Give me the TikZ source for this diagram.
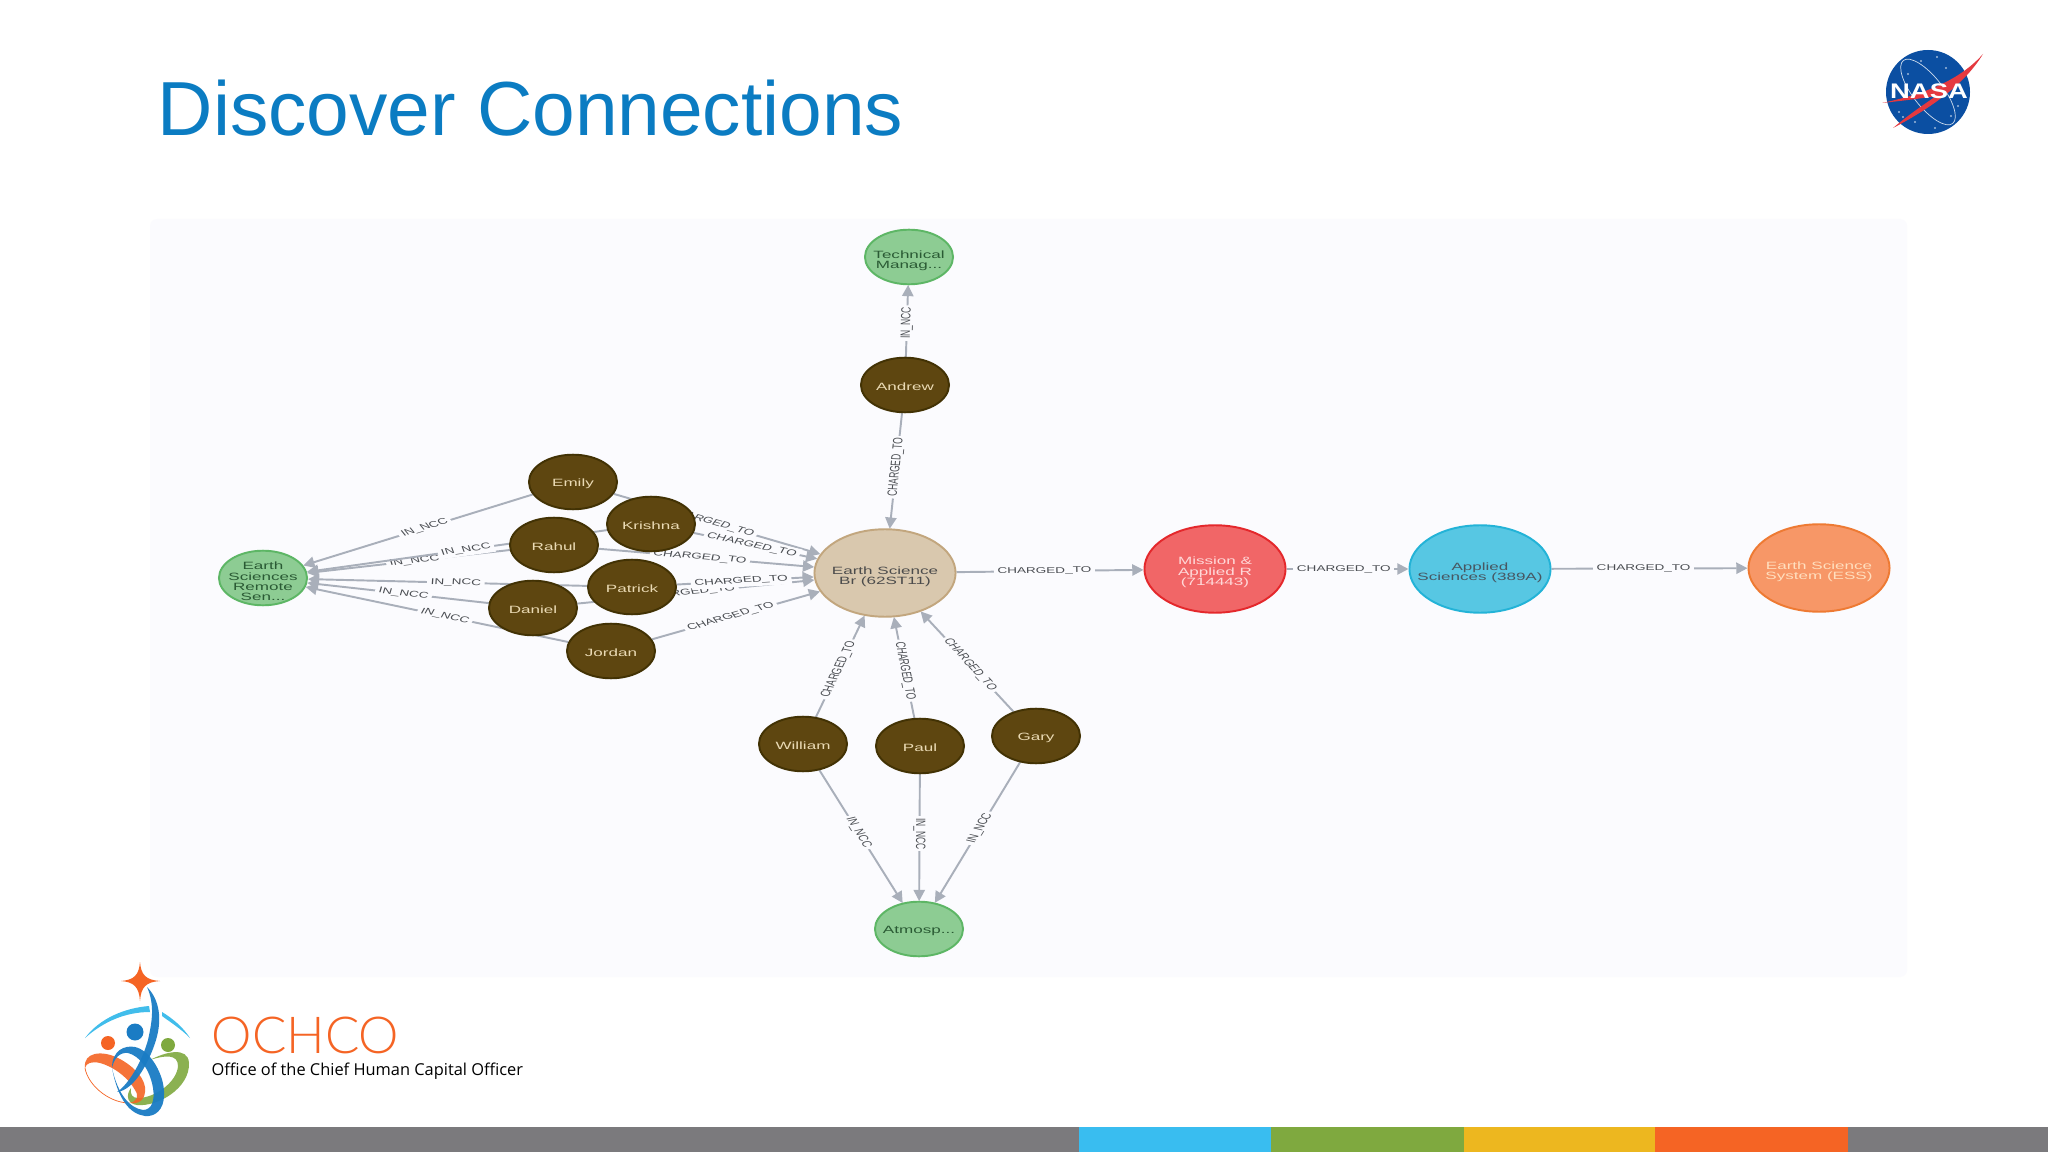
\documentclass[tikz,border=0pt]{standalone}
\usepackage{fontspec}
\setmainfont{Liberation Sans}
\newfontfamily\ochcofont{Lato Light}
\newfontfamily\officefont{Open Sans}
\usetikzlibrary{arrows.meta,positioning,shapes.geometric}
\definecolor{titleblue}{HTML}{0B7CC2}
\definecolor{panelwhite}{HTML}{FBFBFE}
\definecolor{edgegray}{HTML}{A9AFBA}
\definecolor{labeltext}{HTML}{4A4D52}
\definecolor{barback}{HTML}{7B7A7D}
\definecolor{barblue}{HTML}{39BDF0}
\definecolor{bargreen}{HTML}{7FA93F}
\definecolor{baryellow}{HTML}{EDB71F}
\definecolor{barorange}{HTML}{F56424}
\definecolor{nasablue}{HTML}{0B4FA2}
\definecolor{nasared}{HTML}{E5393F}
\definecolor{ribbonblue}{HTML}{1A7CC4}
\definecolor{skyblue}{HTML}{41BDEB}
\definecolor{personfill}{HTML}{5E4610}
\definecolor{personline}{HTML}{423204}
\definecolor{persontext}{HTML}{EADAB4}
\definecolor{groupfill}{HTML}{8DCC93}
\definecolor{groupline}{HTML}{5DB665}
\definecolor{grouptext}{HTML}{2A5A34}
\definecolor{tanfill}{HTML}{D9C8AE}
\definecolor{tanline}{HTML}{C2A67E}
\definecolor{redfill}{HTML}{F16667}
\definecolor{redline}{HTML}{E4282C}
\definecolor{cyanfill}{HTML}{57C7E3}
\definecolor{cyanline}{HTML}{23B3D7}
\definecolor{orangefill}{HTML}{F79767}
\definecolor{orangeline}{HTML}{EE7A33}
\pgfdeclarelayer{panel}
\pgfdeclarelayer{edges}
\pgfsetlayers{panel,edges,main}
\newcommand{\toprule}{\rule{0pt}{6.7pt}}
\newcommand{\oneline}{\rule{0pt}{5.5pt}}
\tikzset{
    basenode/.style={circle, inner sep=-6pt, yscale=0.62, line width=0.55pt, align=center,
        font=\fontsize{4.85}{4.7}\selectfont},
    person/.style={basenode, minimum size=0.88cm, fill=personfill, draw=personline, text=persontext},
    group/.style={basenode, minimum size=0.88cm, fill=groupfill, draw=groupline, text=grouptext},
    branch/.style={basenode, minimum size=1.41cm, fill=#1fill, draw=#1line},
    rel/.style={draw=edgegray, line width=0.55pt, -{Triangle[length=3.2pt,width=3.2pt]}},
    rellabel/.style={pos=0.47, yscale=0.62, fill=panelwhite, inner sep=1pt, text=labeltext,
        font=\fontsize{3.85}{3.85}\selectfont},
}
\begin{document}
\begin{tikzpicture}[x=0.01cm,y=-0.01cm]
    \useasboundingbox (0,0) rectangle (2048,1152);

    % heading
    \node[anchor=base west, inner sep=0pt, text=titleblue, font=\fontsize{21.8}{24}\selectfont] (title) at (157,136) {Discover Connections};

    % graph
    \begin{pgfonlayer}{panel}
        \fill[white] (0,0) rectangle (2048,1152);
        \fill[panelwhite, rounded corners=2pt] (150,219) rectangle (1907,977);
    \end{pgfonlayer}

    \node[group] (tech) at (909,257) {\toprule Technical\\Manag...};
    \node[person] (andrew) at (905,385) {\oneline Andrew};
    \node[group] (remote) at (263,578) {\toprule Earth\\Sciences\\Remote\\Sen...};
    \node[person] (emily) at (573,482) {\oneline Emily};
    \node[person] (rahul) at (554,545) {\oneline Rahul};
    \node[person] (krishna) at (651,524) {\oneline Krishna};
    \node[person] (daniel) at (533,608) {\oneline Daniel};
    \node[person] (patrick) at (632,587) {\oneline Patrick};
    \node[person] (jordan) at (611,651) {\oneline Jordan};
    \node[branch=tan, text=black!70] (esb) at (885,573) {\toprule Earth Science\\Br (62ST11)};
    \node[branch=red, text=white!85!red] (mission) at (1215,569) {\toprule Mission \&\\Applied R\\(714443)};
    \node[branch=cyan, text=black!70!cyan] (applied) at (1480,569) {\toprule Applied\\Sciences (389A)};
    \node[branch=orange, text=white!75!orange] (ess) at (1819,568) {\toprule Earth Science\\System (ESS)};
    \node[person] (william) at (803,744) {\oneline William};
    \node[person] (paul) at (920,746) {\oneline Paul};
    \node[person] (gary) at (1036,736) {\oneline Gary};
    \node[group] (atmos) at (919,929) {\oneline Atmosp...};

    \begin{pgfonlayer}{edges}
        \draw[rel] (andrew) -- node[rellabel, rotate=88.9] {IN\_NCC} (tech);
        \draw[rel] (andrew) -- node[rellabel, rotate=86.2] {CHARGED\_TO} (esb);

        \draw[rel] (emily) -- node[rellabel, rotate=26.6] {IN\_NCC} (remote);
        \draw[rel] (rahul) -- node[rellabel, rotate=10.4] {IN\_NCC} (remote);
        \draw[rel] (krishna) -- node[rellabel, rotate=12.7] {IN\_NCC} (remote);
        \draw[rel] (patrick) -- node[rellabel, rotate=-2.3] {IN\_NCC} (remote);
        \draw[rel] (daniel) -- node[rellabel, rotate=-10.2] {IN\_NCC} (remote);
        \draw[rel] (jordan) -- node[rellabel, rotate=-18.8] {IN\_NCC} (remote);

        \draw[rel] (emily) -- node[rellabel, rotate=-25.2] {CHARGED\_TO} (esb);
        \draw[rel] (krishna) -- node[rellabel, rotate=-18.7] {CHARGED\_TO} (esb);
        \draw[rel] (rahul) -- node[rellabel, rotate=-7.8] {CHARGED\_TO} (esb);
        \draw[rel] (daniel) -- node[rellabel, rotate=9.1] {CHARGED\_TO} (esb);
        \draw[rel] (patrick) -- node[rellabel, rotate=5.1] {CHARGED\_TO} (esb);
        \draw[rel] (jordan) -- node[rellabel, rotate=24.7] {CHARGED\_TO} (esb);

        \draw[rel] (william) -- node[rellabel, rotate=73.4] {CHARGED\_TO} (esb);
        \draw[rel] (paul) -- node[rellabel, rotate=-82.8] {CHARGED\_TO} (esb);
        \draw[rel] (gary) -- node[rellabel, rotate=-60.1] {CHARGED\_TO} (esb);
        \draw[rel] (william) -- node[rellabel, rotate=-68.7] {IN\_NCC} (atmos);
        \draw[rel] (paul) -- node[rellabel, rotate=-90] {IN\_NCC} (atmos);
        \draw[rel] (gary) -- node[rellabel, rotate=69.4] {IN\_NCC} (atmos);

        \draw[rel] (esb) -- node[rellabel, rotate=1] {CHARGED\_TO} (mission);
        \draw[rel] (mission) -- node[rellabel] {CHARGED\_TO} (applied);
        \draw[rel] (applied) -- node[rellabel] {CHARGED\_TO} (ess);
    \end{pgfonlayer}

    % NASA badge
    \fill[nasablue] (1928,92) circle (42);
    \draw[white!80!nasablue, line width=0.2pt, rotate around={-52:(1928,92)}] (1928,92) ellipse (40 and 15);
    \foreach \sx/\sy in {1921/61,1937/57,1908/74,1899/112,1915/122,1951/116,1958/106,1946/68,1903/117,1935/128}
        \fill[white!60!nasablue] (\sx,\sy) circle (1.1);
    \fill[nasared] (1882,103) .. controls (1925,94) and (1960,80) .. (1983,54)
        .. controls (1966,82) and (1935,106) .. (1893,128)
        .. controls (1912,112) and (1925,104) .. (1936,96)
        .. controls (1918,99) and (1900,101) .. (1882,103) -- cycle;
    \node[white, inner sep=0pt, xscale=1.3, font=\bfseries\fontsize{6}{6}\selectfont] (nasaword) at (1929,91) {NASA};

    % OCHCO mark
    \fill[barorange] (140,962) .. controls (141,975) and (146,980) .. (160,981)
        .. controls (146,982) and (141,987) .. (140,1001)
        .. controls (139,987) and (134,982) .. (121,981)
        .. controls (134,980) and (139,975) .. (140,962) -- cycle;
    \fill[skyblue] (85,1038) .. controls (100,1018) and (125,1008) .. (149,1006)
        -- (150,1012) .. controls (125,1012) and (103,1022) .. (85,1038) -- cycle;
    \fill[skyblue] (162,1012) .. controls (172,1018) and (183,1027) .. (190,1038)
        .. controls (180,1028) and (170,1022) .. (162,1016) -- cycle;
    \fill[ribbonblue] (135,1032) circle (8.5);
    \fill[barorange] (108,1043) circle (7);
    \fill[bargreen] (168,1045) circle (7);
    % green ribbon
    \fill[bargreen, fill opacity=0.9] (150,1060) .. controls (165,1052) and (188,1046) .. (189,1063)
        .. controls (190,1088) and (158,1107) .. (137,1105)
        .. controls (128,1104) and (125,1096) .. (131,1088)
        .. controls (130,1094) and (132,1098) .. (138,1098)
        .. controls (155,1098) and (177,1082) .. (178,1066)
        .. controls (178,1054) and (165,1055) .. (150,1060) -- cycle;
    % orange ribbon
    \fill[barorange, fill opacity=0.9] (85,1068) .. controls (83,1052) and (102,1050) .. (118,1058)
        .. controls (134,1066) and (147,1080) .. (145,1092)
        .. controls (144,1103) and (135,1104) .. (128,1103)
        .. controls (138,1102) and (139,1096) .. (135,1090)
        .. controls (128,1077) and (112,1066) .. (100,1063)
        .. controls (92,1061) and (86,1063) .. (85,1068) -- cycle;
    \draw[barorange, line width=0.2pt] (85,1068) .. controls (88,1085) and (108,1102) .. (128,1103);
    % blue ribbons
    \fill[ribbonblue, fill opacity=0.95] (147,987) .. controls (160,1000) and (162,1020) .. (156,1040)
        .. controls (150,1060) and (135,1090) .. (117,1092)
        .. controls (128,1085) and (142,1062) .. (148,1040)
        .. controls (152,1022) and (155,1005) .. (147,987) -- cycle;
    \fill[ribbonblue, fill opacity=0.95] (112,1068) .. controls (112,1050) and (125,1045) .. (135,1047)
        .. controls (150,1050) and (165,1075) .. (164,1095)
        .. controls (164,1110) and (155,1117) .. (145,1116)
        .. controls (130,1114) and (118,1100) .. (112,1068)
        .. controls (118,1095) and (130,1108) .. (143,1110)
        .. controls (152,1110) and (155,1100) .. (153,1088)
        .. controls (150,1070) and (140,1056) .. (128,1053)
        .. controls (120,1052) and (114,1058) .. (112,1068) -- cycle;
    \node[anchor=base west, inner sep=0pt, text=barorange, font=\ochcofont\fontsize{14.5}{14.5}\selectfont] (ochco) at (211,1053) {OCHCO};
    \node[anchor=base west, inner sep=0pt, text=black, font=\officefont\fontsize{4.66}{5}\selectfont] (office) at (211,1075) {Office of the Chief Human Capital Officer};

    % footer bar
    \fill[barback] (0,1127) rectangle (2048,1152);
    \fill[barblue] (1079,1127) rectangle (1271,1152);
    \fill[bargreen] (1271,1127) rectangle (1464,1152);
    \fill[baryellow] (1464,1127) rectangle (1655,1152);
    \fill[barorange] (1655,1127) rectangle (1848,1152);
\end{tikzpicture}
\end{document}
